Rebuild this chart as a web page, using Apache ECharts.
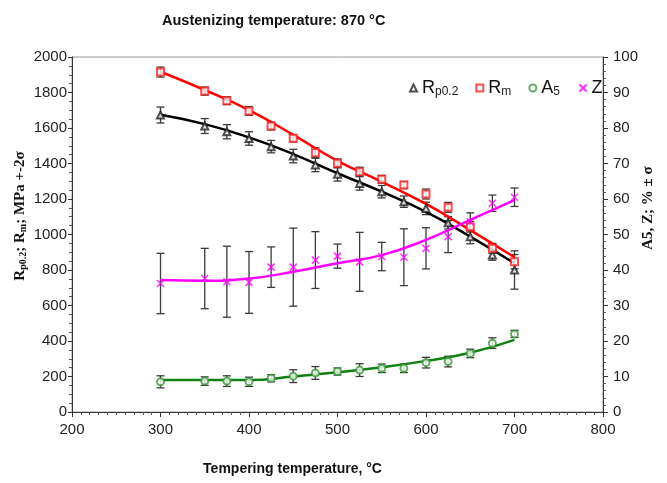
<!DOCTYPE html>
<html>
<head>
<meta charset="utf-8">
<script src="https://cdn.jsdelivr.net/npm/echarts@6.0.0/dist/echarts.min.js"></script>
<style>
	html, body { margin: 0; padding: 0; background: #fff; }
	#chart { width: 667px; height: 483px; }
</style>
</head>
<body>
<div id="chart"></div>
<script>
	// measured points (tempering temperature, °C)
	let temps = [300, 350, 375, 400, 425, 450, 475, 500, 525, 550, 575, 600, 625, 650, 675, 700]
	let rp = [1673, 1611, 1579, 1541, 1495, 1442, 1392, 1339, 1288, 1241, 1185, 1147, 1066, 988, 885, 800]
	let rpErr = [45, 42, 40, 38, 35, 38, 38, 38, 38, 35, 32, 35, 35, 40, 30, 108]
	let rm = [1915, 1808, 1754, 1696, 1611, 1542, 1461, 1401, 1354, 1311, 1279, 1228, 1153, 1044, 922, 847]
	let rmErr = [28, 23, 22, 25, 22, 20, 28, 25, 25, 22, 20, 28, 28, 30, 28, 40]
	let a5 = [8.5, 8.7, 8.7, 8.5, 9.5, 10.1, 11.0, 11.4, 11.8, 12.3, 12.3, 13.9, 14.2, 16.5, 19.4, 22.0]
	let a5Err = [1.7, 1.2, 1.5, 1.3, 1.0, 1.8, 1.8, 1.0, 1.8, 1.2, 1.2, 1.5, 1.5, 1.2, 1.5, 1.0]
	let z = [36.2, 37.6, 36.7, 36.5, 40.8, 40.8, 42.8, 43.9, 42.3, 43.8, 43.6, 46.1, 49.4, 53.6, 58.8, 60.5]
	let zErr = [8.5, 8.5, 10, 8.7, 5.7, 11, 8, 3.4, 8.3, 4, 8, 5.8, 4.5, 2.5, 2.3, 2.6]

	// fitted curves
	let fitX = [300, 350, 400, 450, 500, 550, 600, 650, 700]
	let rpFit = [1675, 1622, 1547, 1453, 1345, 1241, 1128, 988, 838]
	let rmFit = [1917, 1814, 1701, 1561, 1415, 1297, 1172, 1025, 872]
	let a5Fit = [9.0, 9.0, 9.0, 10.0, 11.2, 12.6, 14.4, 16.7, 20.3]
	let zFit = [37.2, 37.0, 37.6, 39.5, 41.9, 44.2, 48.5, 54.1, 59.7]

	let xTicks = [200, 800, 100]
	let leftTicks = [0, 2000, 200]
	let rightTicks = [0, 100, 10]

	function pairs(xs, ys){
		return xs.map((x, i) => [x, ys[i]])
	}
	function bars(vals, errs){
		return temps.map((t, i) => [t, vals[i] - errs[i], vals[i] + errs[i]])
	}
	function errorBar(params, api){
		let x = api.value(0)
		let lo = api.coord([x, api.value(1)])
		let hi = api.coord([x, api.value(2)])
		let w = 4
		let st = { stroke: '#3a3a3a', lineWidth: 1.3 }
		return {
			type: 'group',
			children: [
				{ type: 'line', shape: { x1: lo[0], y1: lo[1], x2: hi[0], y2: hi[1] }, style: st },
				{ type: 'line', shape: { x1: lo[0] - w, y1: lo[1], x2: lo[0] + w, y2: lo[1] }, style: st },
				{ type: 'line', shape: { x1: hi[0] - w, y1: hi[1], x2: hi[0] + w, y2: hi[1] }, style: st }
			]
		}
	}
	function errSeries(name, vals, errs, axis){
		return {
			name: name, type: 'custom', yAxisIndex: axis, z: 2,
			renderItem: errorBar, encode: { x: 0, y: [1, 2] },
			data: bars(vals, errs)
		}
	}
	function fitSeries(name, ys, color, axis){
		return {
			name: name, type: 'line', yAxisIndex: axis, z: 4,
			smooth: true, symbol: 'none',
			lineStyle: { color: color, width: 2.5 },
			data: pairs(fitX, ys)
		}
	}
	function plain(v){
		return String(v)
	}

	let labelFont = { fontSize: 15, color: '#222', fontFamily: 'Liberation Sans', formatter: plain }
	let serif = 'bold 15px "Liberation Serif"'
	let serifSub = 'bold 10px "Liberation Serif"'

	let mychart = echarts.init(document.getElementById('chart'))
	let option = {
		animation: false,
		title: {
			text: 'Austenizing temperature: 870 °C',
			left: 157, top: 8,
			textStyle: { fontSize: 14.5, fontWeight: 'bold', color: '#111', fontFamily: 'Liberation Sans' }
		},
		legend: {
			data: ['Rp', 'Rm', 'A5', 'Z'],
			left: 404, top: 74,
			itemWidth: 7, itemHeight: 7, itemGap: 17,
			formatter: function(name){
				return { Rp: '{m|R}{s|p0.2}', Rm: '{m|R}{s|m}', A5: '{m|A}{s|5}', Z: '{m|Z}' }[name]
			},
			textStyle: {
				color: '#111',
				rich: {
					m: { fontSize: 18, fontFamily: 'Liberation Sans', color: '#111' },
					s: { fontSize: 12, fontFamily: 'Liberation Sans', color: '#222', padding: [8, 0, 0, 0] }
				}
			}
		},
		grid: {
			left: 72, right: 64, top: 57, bottom: 71,
			show: true, borderColor: '#999', borderWidth: 1
		},
		xAxis: {
			type: 'value', min: xTicks[0], max: xTicks[1], interval: xTicks[2],
			name: 'Tempering temperature, °C', nameLocation: 'middle', nameGap: 50,
			nameTextStyle: { fontSize: 14, fontWeight: 'bold', color: '#111', fontFamily: 'Liberation Sans', padding: [0, 90, 0, 0] },
			axisLine: { lineStyle: { color: '#333' } },
			axisTick: { length: 5, lineStyle: { color: '#333' } },
			minorTick: { show: true, splitNumber: 10, length: 3, lineStyle: { color: '#555' } },
			splitLine: { show: false },
			axisLabel: Object.assign({ margin: 10 }, labelFont)
		},
		yAxis: [
			{
				type: 'value', min: leftTicks[0], max: leftTicks[1], interval: leftTicks[2],
				axisLine: { show: true, lineStyle: { color: '#333' } },
				axisTick: { show: true, length: 4, lineStyle: { color: '#333' } },
				minorTick: { show: true, splitNumber: 4, length: 3, lineStyle: { color: '#555' } },
				splitLine: { show: false },
				axisLabel: Object.assign({ margin: 5 }, labelFont)
			},
			{
				type: 'value', min: rightTicks[0], max: rightTicks[1], interval: rightTicks[2],
				position: 'right',
				axisLine: { show: true, lineStyle: { color: '#333' } },
				axisTick: { show: true, length: 5, lineStyle: { color: '#333' } },
				minorTick: { show: true, splitNumber: 5, length: 3, lineStyle: { color: '#555' } },
				splitLine: { show: false },
				axisLabel: Object.assign({ margin: 10 }, labelFont)
			}
		],
		graphic: [
			{
				type: 'text', x: 20, y: 216, rotation: Math.PI / 2,
				style: {
					text: '{m|R}{s|p0.2}{m|; R}{s|m}{m|; MPa +-2σ}',
					align: 'center', verticalAlign: 'middle', fill: '#111',
					rich: {
						m: { font: serif, fill: '#111' },
						s: { font: serifSub, fill: '#111', padding: [6, 0, 0, 0] }
					}
				}
			},
			{
				type: 'text', x: 648, y: 208, rotation: Math.PI / 2,
				style: {
					text: 'A5, Z; % ± σ',
					align: 'center', verticalAlign: 'middle', fill: '#111',
					font: serif
				}
			}
		],
		series: [
			errSeries('RpErr', rp, rpErr, 0),
			errSeries('RmErr', rm, rmErr, 0),
			errSeries('A5Err', a5, a5Err, 1),
			errSeries('ZErr', z, zErr, 1),
			fitSeries('RpFit', rpFit, '#000000', 0),
			fitSeries('RmFit', rmFit, '#ff0000', 0),
			fitSeries('A5Fit', a5Fit, '#108010', 1),
			fitSeries('ZFit', zFit, '#ff00ff', 1),
			{
				name: 'Rp', type: 'scatter', yAxisIndex: 0, z: 5,
				symbol: 'emptyTriangle', symbolSize: 7,
				itemStyle: { color: '#222', borderWidth: 1 },
				data: pairs(temps, rp)
			},
			{
				name: 'Rm', type: 'scatter', yAxisIndex: 0, z: 5,
				symbol: 'emptyRect', symbolSize: 7,
				itemStyle: { color: '#ff2020', borderWidth: 1 },
				data: pairs(temps, rm)
			},
			{
				name: 'A5', type: 'scatter', yAxisIndex: 1, z: 5,
				symbol: 'emptyCircle', symbolSize: 7,
				itemStyle: { color: '#3a9a3a', borderWidth: 1 },
				data: pairs(temps, a5)
			},
			{
				name: 'Z', type: 'scatter', yAxisIndex: 1, z: 5,
				symbol: 'path://M0,0L10,10M10,0L0,10', symbolSize: 7,
				itemStyle: { color: 'none', borderColor: '#ff00ff', borderWidth: 1.6 },
				data: pairs(temps, z)
			}
		]
	}
	mychart.setOption(option)
</script>
</body>
</html>
